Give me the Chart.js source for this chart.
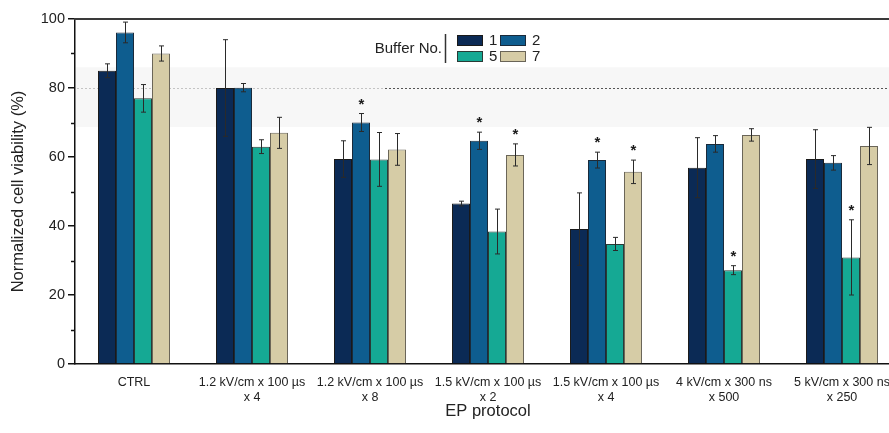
<!DOCTYPE html>
<html>
<head>
<meta charset="utf-8">
<script src="https://cdn.jsdelivr.net/npm/chart.js@4/dist/chart.umd.min.js"></script>
<style>
  html, body { margin: 0; padding: 0; background: #fff; overflow: hidden; }
  #wrap { width: 910px; height: 433px; }
</style>
</head>
<body>
<div id="wrap"><canvas id="chart"></canvas></div>
<script>
// categories (EP protocols)
const protocols = [
  'CTRL',
  ['1.2 kV/cm x 100 \u00b5s', 'x 4'],
  ['1.2 kV/cm x 100 \u00b5s', 'x 8'],
  ['1.5 kV/cm x 100 \u00b5s', 'x 2'],
  ['1.5 kV/cm x 100 \u00b5s', 'x 4'],
  ['4 kV/cm x 300 ns', 'x 500'],
  ['5 kV/cm x 300 ns', 'x 250']
];

const bufferNames = ['1', '2', '5', '7'];

// mean viability (%)
const buffer1 = [85.0, 80.0, 59.4, 46.5, 39.1, 56.9, 59.4];
const buffer2 = [96.1, 80.1, 70.0, 64.7, 59.1, 63.8, 58.3];
const buffer5 = [77.0, 63.0, 59.3, 38.4, 34.8, 27.2, 30.9];
const buffer7 = [90.0, 67.0, 62.2, 60.6, 55.7, 66.4, 63.2];

// error bars (+/-)
const err1 = [2.0, 14.0, 5.3, 0.7, 10.5, 8.7, 8.5];
const err2 = [3.0, 1.2, 2.6, 2.5, 2.3, 2.4, 2.1];
const err5 = [4.0, 2.0, 7.8, 6.5, 1.9, 1.3, 10.9];
const err7 = [2.2, 4.5, 4.6, 3.2, 3.4, 1.8, 5.4];

// significance markers
const star1 = [0, 0, 0, 0, 0, 0, 0];
const star2 = [0, 0, 1, 1, 1, 0, 0];
const star5 = [0, 0, 0, 0, 0, 1, 1];
const star7 = [0, 0, 0, 1, 1, 0, 0];

const yTicks = [0, 20, 40, 60, 80, 100];
const yMinorTicks = [10, 30, 50, 70, 90];

const colors = ['#0b2a55', '#0e5d8f', '#15a994', '#d6cca6'];
const borders = ['#1a1a1a', '#1a2a3a', '#2a3a36', '#6a6558'];

const values = [buffer1, buffer2, buffer5, buffer7];
const errors = [err1, err2, err5, err7];
const stars = [star1, star2, star5, star7];

const FONT = '"Liberation Sans", Arial, sans-serif';

const extras = {
  id: 'extras',
  beforeDatasetsDraw(chart) {
    const { ctx, chartArea: a, scales: { y } } = chart;
    ctx.save();
    // light band around the reference level
    const t = y.getPixelForValue(86), b = y.getPixelForValue(68.7);
    ctx.fillStyle = 'rgba(228,228,228,0.3)';
    ctx.fillRect(a.left + 1, t, a.right - a.left, b - t);
    const y80 = Math.round(y.getPixelForValue(80)) + 0.5;
    ctx.lineWidth = 1;
    ctx.setLineDash([2, 2]);
    ctx.strokeStyle = '#c4c4c4';
    ctx.beginPath(); ctx.moveTo(a.left + 2, y80); ctx.lineTo(385, y80); ctx.stroke();
    ctx.strokeStyle = '#555';
    ctx.beginPath(); ctx.moveTo(385, y80); ctx.lineTo(a.right, y80); ctx.stroke();
    ctx.restore();
  },
  afterDatasetsDraw(chart) {
    const { ctx, chartArea: a, scales: { y } } = chart;
    ctx.save();
    // error bars and stars
    values.forEach((vals, di) => {
      const meta = chart.getDatasetMeta(di);
      meta.data.forEach((bar, i) => {
        const x = Math.round(bar.x) + 0.5;
        const top = y.getPixelForValue(vals[i] + errors[di][i]);
        const bot = y.getPixelForValue(vals[i] - errors[di][i]);
        ctx.strokeStyle = '#2a2a2a';
        ctx.lineWidth = 1;
        ctx.beginPath();
        ctx.moveTo(x, top); ctx.lineTo(x, bot);
        ctx.moveTo(x - 2.5, top); ctx.lineTo(x + 2.5, top);
        ctx.moveTo(x - 2.5, bot); ctx.lineTo(x + 2.5, bot);
        ctx.stroke();
        if (stars[di][i]) {
          ctx.fillStyle = '#1a1a1a';
          ctx.font = 'bold 15px ' + FONT;
          ctx.textAlign = 'center';
          ctx.textBaseline = 'middle';
          ctx.fillText('*', x, top - 9);
        }
      });
    });
    // minor y ticks
    ctx.strokeStyle = '#111';
    ctx.lineWidth = 1.5;
    yMinorTicks.forEach(v => {
      const p = Math.round(y.getPixelForValue(v)) + 0.5;
      ctx.beginPath(); ctx.moveTo(a.left - 4, p); ctx.lineTo(a.left, p); ctx.stroke();
    });
    // top frame
    ctx.strokeStyle = '#3a3a3a';
    ctx.lineWidth = 2;
    ctx.beginPath(); ctx.moveTo(a.left - 1, a.top); ctx.lineTo(a.right, a.top); ctx.stroke();
    // legend
    ctx.fillStyle = '#222';
    ctx.font = '15px ' + FONT;
    ctx.textAlign = 'right';
    ctx.textBaseline = 'middle';
    ctx.fillText('Buffer No.', 442, 49);
    ctx.strokeStyle = '#333';
    ctx.lineWidth = 1.5;
    ctx.beginPath(); ctx.moveTo(445.5, 34); ctx.lineTo(445.5, 63); ctx.stroke();
    const pos = [[457, 35], [500, 35], [457, 51], [500, 51]];
    bufferNames.forEach((n, k) => {
      const [bx, by] = pos[k];
      ctx.fillStyle = colors[k];
      ctx.fillRect(bx, by, 26, 11);
      ctx.strokeStyle = borders[k];
      ctx.lineWidth = 1;
      ctx.strokeRect(bx + 0.5, by + 0.5, 25, 10);
      ctx.fillStyle = '#222';
      ctx.font = '15px ' + FONT;
      ctx.textAlign = 'left';
      ctx.fillText(n, bx + 32, by + 6);
    });
    ctx.restore();
  }
};

new Chart(document.getElementById('chart'), {
  type: 'bar',
  data: {
    labels: protocols,
    datasets: values.map((vals, k) => ({
      label: bufferNames[k],
      data: vals,
      backgroundColor: colors[k],
      borderColor: borders[k],
      borderWidth: 1,
      categoryPercentage: 0.61,
      barPercentage: 1.0
    }))
  },
  options: {
    responsive: true,
    maintainAspectRatio: false,
    animation: false,
    layout: { padding: { top: 19, right: 9, left: 0, bottom: 0 } },
    plugins: {
      legend: { display: false },
      tooltip: { enabled: false }
    },
    scales: {
      x: {
        grid: { display: false, drawTicks: false },
        border: { display: true, color: '#111', width: 1.5 },
        ticks: {
          color: '#222',
          font: { family: FONT, size: 12.5 },
          padding: 11,
          maxRotation: 0,
          autoSkip: false
        },
        title: {
          display: true,
          text: 'EP protocol',
          color: '#222',
          font: { family: FONT, size: 16.5 },
          padding: { top: 0, bottom: 12 }
        },
        afterFit(scale) { scale.height = 69; }
      },
      y: {
        min: 0,
        max: 100,
        afterBuildTicks(scale) { scale.ticks = yTicks.map(v => ({ value: v })); },
        grid: {
          drawOnChartArea: false,
          drawTicks: true,
          tickLength: 7,
          color: '#111',
          lineWidth: 1.5
        },
        border: { display: true, color: '#111', width: 1.5 },
        ticks: {
          color: '#222',
          font: { family: FONT, size: 14.5 },
          padding: 3
        },
        title: {
          display: true,
          text: 'Normalized cell viability (%)',
          color: '#222',
          font: { family: FONT, size: 16.5 },
          padding: { top: 9, bottom: 0 }
        },
        afterFit(scale) { scale.width = 75; }
      }
    }
  },
  plugins: [extras]
});
</script>
</body>
</html>
